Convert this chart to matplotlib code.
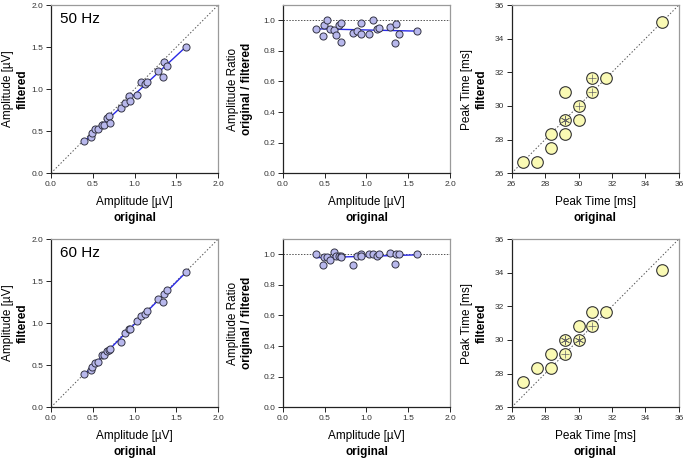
import numpy as np
import matplotlib
matplotlib.use("Agg")
import matplotlib.pyplot as plt

plt.rcParams['font.family'] = ['Liberation Sans', 'DejaVu Sans']

# amplitudes [uV], same subjects in all amplitude panels
amp_orig = [0.40, 0.48, 0.49, 0.53, 0.56, 0.61, 0.63, 0.67, 0.69, 0.70, 0.84, 0.89,
            0.93, 0.94, 1.03, 1.08, 1.12, 1.15, 1.28, 1.34, 1.35, 1.39, 1.61]
amp_filt_50 = [0.377, 0.43, 0.475, 0.53, 0.53, 0.57, 0.57, 0.65, 0.68, 0.60, 0.77, 0.83,
               0.915, 0.855, 0.935, 1.08, 1.06, 1.09, 1.22, 1.14, 1.32, 1.27, 1.50]
amp_filt_60 = [0.40, 0.446, 0.483, 0.522, 0.539, 0.619, 0.622, 0.664, 0.683, 0.690, 0.781, 0.878,
               0.93, 0.930, 1.03, 1.08, 1.11, 1.15, 1.29, 1.256, 1.35, 1.395, 1.61]

# peak times [ms] (unique positions + number of overlapping subjects)
peak_orig_50 = [26.67, 27.50, 28.33, 28.33, 29.17, 29.17, 29.17, 30.00, 30.00, 30.83, 30.83, 31.67, 35.00]
peak_filt_50 = [26.67, 26.67, 27.50, 28.33, 28.33, 29.17, 30.83, 30.00, 29.17, 30.83, 31.67, 31.67, 35.00]
peak_n_50 = [1, 1, 1, 1, 1, 3, 1, 2, 1, 2, 2, 1, 1]
peak_orig_60 = [26.67, 27.50, 28.33, 28.33, 29.17, 29.17, 30.00, 30.00, 30.83, 30.83, 31.67, 35.00]
peak_filt_60 = [27.50, 28.33, 28.33, 29.17, 29.17, 30.00, 30.00, 30.83, 30.83, 31.67, 31.67, 34.17]
peak_n_60 = [1, 1, 1, 1, 2, 3, 3, 1, 2, 1, 1, 1]

rows = [('50 Hz', amp_filt_50, peak_orig_50, peak_filt_50, peak_n_50),
        ('60 Hz', amp_filt_60, peak_orig_60, peak_filt_60, peak_n_60)]

AMP_FACE = '#b8b8ec'
PEAK_FACE = '#fafab4'
TICK_COL = '#333333'


def style_axes(ax):
    for s in ['top', 'right']:
        ax.spines[s].set_color('#9a9a9a')
    for s in ['left', 'bottom']:
        ax.spines[s].set_color('#222222')
    for s in ax.spines.values():
        s.set_linewidth(0.9)
    ax.tick_params(direction='out', length=3.5, width=0.7, labelsize=6,
                   colors='#222222', labelcolor=TICK_COL, pad=2)


def labels(ax, xl1, xl2, yl1, yl2, ydx1, ydx2):
    ax.text(0.5, -0.17, xl1, transform=ax.transAxes, ha='center', va='center', fontsize=8.5)
    ax.text(0.5, -0.265, xl2, transform=ax.transAxes, ha='center', va='center',
            fontsize=8.5, fontweight='bold')
    ax.text(ydx1, 0.5, yl1, transform=ax.transAxes, ha='center', va='center',
            fontsize=8.5, rotation=90)
    ax.text(ydx2, 0.5, yl2, transform=ax.transAxes, ha='center', va='center',
            fontsize=8.5, fontweight='bold', rotation=90)


fig = plt.figure(figsize=(6.85, 4.58), dpi=100)
bottoms = [0.622, 0.111]
lefts = [0.0745, 0.413, 0.747]
w, h = 0.244, 0.367

x = np.array(amp_orig)
for r, (name, filt, p_o, p_f, p_n) in enumerate(rows):
    y = np.array(filt)
    b = bottoms[r]

    # amplitude: filtered vs original
    ax = fig.add_axes([lefts[0], b, w, h])
    ax.plot([0, 2], [0, 2], ls=(0, (1.5, 2)), color='#555555', lw=0.7, zorder=1)
    k, c = np.polyfit(x, y, 1)
    xx = np.array([x.min(), x.max()])
    ax.plot(xx, k * xx + c, color='#2a2ae6', lw=1.0, zorder=2)
    ax.scatter(x, y, s=26, facecolor=AMP_FACE, edgecolor='#333344', linewidths=0.7, zorder=3)
    ax.set_xlim(0, 2)
    ax.set_ylim(0, 2)
    ax.set_xticks([0, 0.5, 1.0, 1.5, 2.0])
    ax.set_yticks([0, 0.5, 1.0, 1.5, 2.0])
    ax.xaxis.set_major_formatter('{x:.1f}')
    ax.yaxis.set_major_formatter('{x:.1f}')
    ax.text(0.055, 0.915, name, transform=ax.transAxes, fontsize=11, va='center')
    style_axes(ax)
    labels(ax, 'Amplitude [µV]', 'original', 'Amplitude [µV]', 'filtered', -0.255, -0.17)

    # amplitude ratio
    ratio = y / x
    ax = fig.add_axes([lefts[1], b, w, h])
    ax.axhline(1.0, ls=(0, (1.5, 1.5)), color='#555555', lw=0.7, zorder=1)
    k, c = np.polyfit(x, ratio, 1)
    ax.plot(xx, k * xx + c, color='#2a2ae6', lw=1.0, zorder=2)
    ax.scatter(x, ratio, s=26, facecolor=AMP_FACE, edgecolor='#333344', linewidths=0.7, zorder=3)
    ax.set_xlim(0, 2)
    ax.set_ylim(0, 1.1)
    ax.set_xticks([0, 0.5, 1.0, 1.5, 2.0])
    ax.set_yticks([0, 0.2, 0.4, 0.6, 0.8, 1.0])
    ax.xaxis.set_major_formatter('{x:.1f}')
    ax.yaxis.set_major_formatter('{x:.1f}')
    style_axes(ax)
    labels(ax, 'Amplitude [µV]', 'original', 'Amplitude Ratio', 'original / filtered', -0.3, -0.215)

    # peak time
    ax = fig.add_axes([lefts[2], b, w, h])
    ax.plot([26, 36], [26, 36], ls=(0, (1.5, 2)), color='#555555', lw=0.7, zorder=1)
    ax.scatter(p_o, p_f, s=70, facecolor=PEAK_FACE, edgecolor='#333333', linewidths=0.8, zorder=3)
    po, pf, pn = np.array(p_o), np.array(p_f), np.array(p_n)
    m2 = pn == 2
    m3 = pn >= 3
    ax.scatter(po[m2], pf[m2], s=38, marker='+', color='#666666', linewidths=0.5, zorder=4)
    ax.scatter(po[m3], pf[m3], s=38, marker=(6, 2, 0), color='#666666', linewidths=0.5, zorder=4)
    ax.set_xlim(26, 36)
    ax.set_ylim(26, 36)
    ax.set_xticks(range(26, 37, 2))
    ax.set_yticks(range(26, 37, 2))
    style_axes(ax)
    labels(ax, 'Peak Time [ms]', 'original', 'Peak Time [ms]', 'filtered', -0.265, -0.18)

fig.savefig('out.png', dpi=100)
